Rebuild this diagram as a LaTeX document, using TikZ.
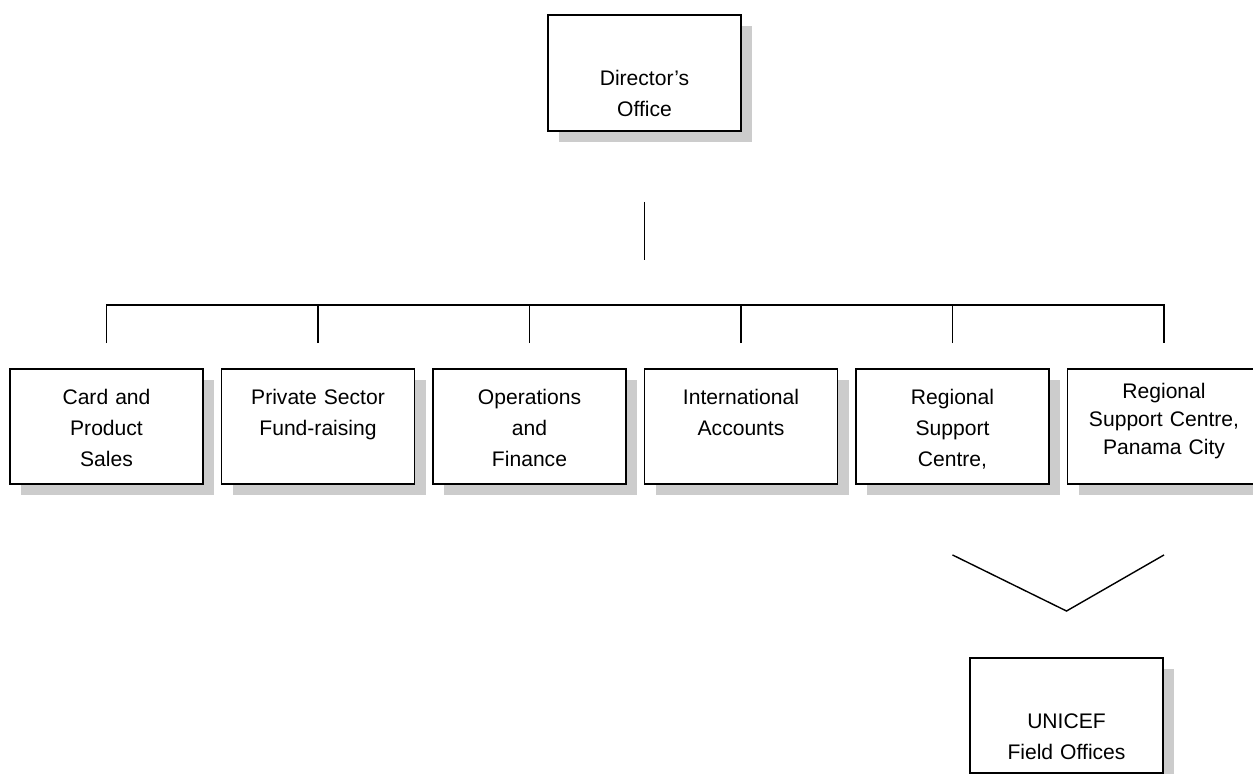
\documentclass[tikz,border=0pt]{standalone}
\usepackage{fontspec}
\setsansfont{Liberation Sans}
\usetikzlibrary{positioning, calc, shadows}
\definecolor{ShadowGrey}{gray}{0.8}

\begin{document}
\begin{tikzpicture}[font=\sffamily\fontsize{12}{17.6}\selectfont,
    unit/.style={draw, line width=1.1pt, fill=white, anchor=north, align=center,
        text width=3.6cm, inner xsep=0.13cm, inner ysep=0pt,
        text height=0.72cm, text depth=1.58cm,
        general shadow={fill=ShadowGrey, shadow xshift=0.22cm, shadow yshift=-0.22cm}},
    head/.style={unit, text height=1.41cm, text depth=0.91cm},
    link/.style={line width=0.8pt}]

\useasboundingbox (0,0) rectangle (25.06,-15.46);
\clip (0,0) rectangle (25.06,-15.46);

\node[head] (dir) at (12.89,-0.28) {Director’s\\Office};

\node[unit] (b1) at (2.13,-7.36) {Card and\\Product\\Sales};
\node[unit] (b2) at (6.36,-7.36) {Private Sector\\Fund-raising};
\node[unit] (b3) at (10.59,-7.36) {Operations\\and\\Finance};
\node[unit] (b4) at (14.82,-7.36) {International\\Accounts};
\node[unit] (b5) at (19.05,-7.36) {Regional\\Support\\Centre,};
\node[unit, text height=0.59cm, text depth=1.71cm,
      font=\sffamily\fontsize{12}{16}\selectfont] (b6) at (23.28,-7.36)
    {Regional\\Support Centre,\\Panama City};

\node[head, text depth=0.89cm] (field) at (21.33,-13.14) {UNICEF\\Field Offices};

% stem under the director
\coordinate[below=1.4cm of dir] (stemtop);
\coordinate[below=1.16cm of stemtop] (stembot);
\draw[link] (stemtop) -- (stembot);

% bus over the six units
\draw[link] ([yshift=0.5cm]b1.north) |- ([yshift=1.26cm]b6.north) -- ([yshift=0.5cm]b6.north);
\foreach \i in {2,...,5}
    \draw[link] ([yshift=0.5cm]b\i.north) -- ++(0,0.76);

% regional centres down to the field offices
\draw[link] ([yshift=-1.4cm]b5.south) -- ([yshift=0.92cm]field.north) -- ([yshift=-1.4cm]b6.south);

\end{tikzpicture}
\end{document}
